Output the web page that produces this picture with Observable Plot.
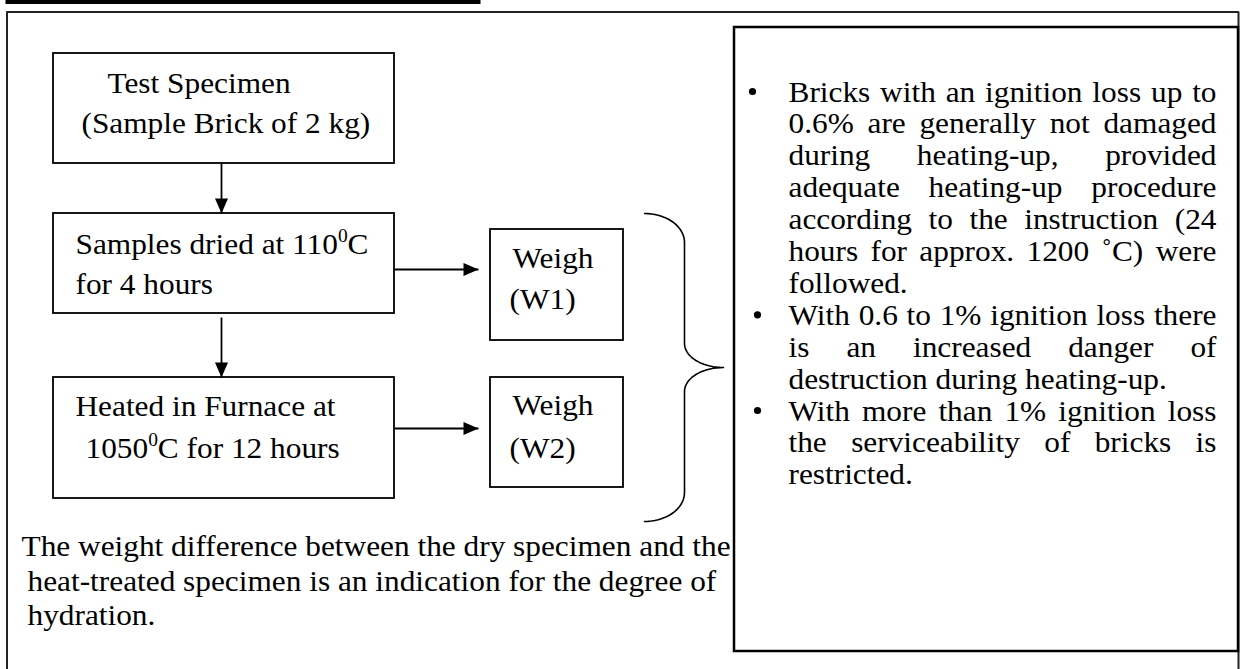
<!DOCTYPE html>
<html>
<head>
<meta charset="utf-8">
<script src="https://cdn.jsdelivr.net/npm/d3@7"></script>
<script src="https://cdn.jsdelivr.net/npm/@observablehq/plot@0.6"></script>
<style>
html,body{margin:0;padding:0;background:#fff;}
#chart svg{display:block;}
</style>
</head>
<body>
<div id="chart"></div>
<script>
// ---------------- data ----------------
const boxes = [
  {id:"specimen", x1:53,  x2:394, y1:53,  y2:163},
  {id:"dried",    x1:53,  x2:394, y1:213, y2:313},
  {id:"heated",   x1:53,  x2:394, y1:377, y2:498},
  {id:"weigh1",   x1:490, x2:623, y1:229, y2:340},
  {id:"weigh2",   x1:490, x2:623, y1:377, y2:487}
];
const noteBox = [{x1:734, x2:1238, y1:27, y2:651}];
const frameLines = [
  {x1:5,    y1:1.5,  x2:480,  y2:1.5},
  {x1:6,    y1:11.5, x2:1238, y2:11.5},
  {x1:6.5,  y1:11,   x2:6.5,  y2:669},
  {x1:1238, y1:11,   x2:1238, y2:669}
];
const arrows = [
  {x1:221, y1:163, x2:221, y2:213, dir:180},
  {x1:221, y1:317, x2:221, y2:377, dir:180},
  {x1:394, y1:269, x2:478, y2:269, dir:90},
  {x1:394, y1:428, x2:478, y2:428, dir:90}
];
const brace = {xEnd:644, xStem:684, xTip:723, yTop:213, yTip:367, yBottom:521, rTop:29, rTip:24};
const flowText = [
  {x:107, y:92,  parts:[["Test Specimen"]]},
  {x:81,  y:132, parts:[["(Sample Brick of 2 kg)"]]},
  {x:75,  y:253, parts:[["Samples dried at 110"],["0",true],["C"]]},
  {x:75,  y:293, parts:[["for 4 hours"]]},
  {x:75,  y:415, parts:[["Heated in Furnace at"]]},
  {x:85,  y:457, parts:[["1050"],["0",true],["C for 12 hours"]]},
  {x:512, y:267, parts:[["Weigh"]]},
  {x:509, y:308, parts:[["(W1)"]]},
  {x:512, y:414, parts:[["Weigh"]]},
  {x:509, y:457, parts:[["(W2)"]]},
  {x:21,  y:555, parts:[["The weight difference between the dry specimen and the"]]},
  {x:27,  y:590, parts:[["heat-treated specimen is an indication for the degree of"]]},
  {x:27,  y:624, parts:[["hydration."]]}
];
const noteLines = [
  {text:"Bricks with an ignition loss up to", justify:true},
  {text:"0.6% are generally not damaged", justify:true},
  {text:"during heating-up, provided", justify:true},
  {text:"adequate heating-up procedure", justify:true},
  {text:"according to the instruction (24", justify:true},
  {text:"hours for approx. 1200 \u02DAC) were", justify:true},
  {text:"followed.", justify:false},
  {text:"With 0.6 to 1% ignition loss there", justify:true},
  {text:"is an increased danger of", justify:true},
  {text:"destruction during heating-up.", justify:false},
  {text:"With more than 1% ignition loss", justify:true},
  {text:"the serviceability of bricks is", justify:true},
  {text:"restricted.", justify:false}
];
const bullets = [{line:0, x:752}, {line:7, x:757}, {line:10, x:757}];
const noteLeft = 788, noteRight = 1216, noteTop = 101, noteStep = 31.9;

// ---------------- layout helpers ----------------
const FONT = "Liberation Serif", SIZE = 29, SUP = 18, STRETCH = 1.08;
const cx = document.createElement("canvas").getContext("2d");
const measure = (t, s = SIZE) => { cx.font = `${s}px "${FONT}"`; return cx.measureText(t).width * STRETCH; };

const mainText = [], supText = [];
for (const L of flowText) {
  let x = L.x;
  for (const [t, isSup] of L.parts) {
    if (isSup) { supText.push({x, y: L.y - 12, t}); x += measure(t, SUP); }
    else { mainText.push({x, y: L.y, t}); x += measure(t); }
  }
}
noteLines.forEach((l, i) => {
  const y = noteTop + i * noteStep;
  if (!l.justify) { mainText.push({x: noteLeft, y, t: l.text}); return; }
  const words = l.text.split(" ");
  const ws = words.map(w => measure(w));
  const gap = (noteRight - noteLeft - d3.sum(ws)) / (words.length - 1);
  let x = noteLeft;
  words.forEach((w, j) => { mainText.push({x, y, t: w}); x += ws[j] + gap; });
});

function bracePoints(b) {
  const pts = [], N = 18, h = Math.PI / 2;
  const rx1 = b.xStem - b.xEnd, rx2 = b.xTip - b.xStem;
  for (let k = 0; k <= N; k++) { const t = k / N * h; pts.push([b.xEnd + rx1 * Math.sin(t), b.yTop + b.rTop - b.rTop * Math.cos(t)]); }
  for (let k = 0; k <= N; k++) { const t = k / N * h; pts.push([b.xTip - rx2 * Math.cos(t), b.yTip - b.rTip + b.rTip * Math.sin(t)]); }
  for (let k = 0; k <= N; k++) { const t = k / N * h; pts.push([b.xTip - rx2 * Math.sin(t), b.yTip + b.rTip - b.rTip * Math.cos(t)]); }
  for (let k = 0; k <= N; k++) { const t = k / N * h; pts.push([b.xEnd + rx1 * Math.cos(t), b.yBottom - b.rTop + b.rTop * Math.sin(t)]); }
  return pts;
}

const arrowHead = {draw(ctx) { ctx.moveTo(0, 0); ctx.lineTo(-6.5, 15); ctx.lineTo(6.5, 15); ctx.closePath(); }};

// ---------------- plot ----------------
const svg = Plot.plot({
  width: 1243, height: 669, margin: 0,
  x: {domain: [0, 1243], range: [0, 1243], axis: null},
  y: {domain: [0, 669], range: [0, 669], axis: null},
  style: {background: "white"},
  marks: [
    Plot.link(frameLines.slice(0, 1), {x1: "x1", y1: "y1", x2: "x2", y2: "y2", stroke: "black", strokeWidth: 4}),
    Plot.link(frameLines.slice(1), {x1: "x1", y1: "y1", x2: "x2", y2: "y2", stroke: "#222", strokeWidth: 2}),
    Plot.rect(noteBox, {x1: "x1", x2: "x2", y1: "y1", y2: "y2", fill: "none", stroke: "black", strokeWidth: 2.5}),
    Plot.rect(boxes, {x1: "x1", x2: "x2", y1: "y1", y2: "y2", fill: "none", stroke: "black", strokeWidth: 1.8}),
    Plot.link(arrows, {x1: "x1", y1: "y1", x2: "x2", y2: "y2", stroke: "black", strokeWidth: 1.8}),
    Plot.dot(arrows, {x: "x2", y: "y2", symbol: arrowHead, rotate: "dir", r: 6, fill: "black", stroke: "none"}),
    Plot.line(bracePoints(brace), {x: d => d[0], y: d => d[1], stroke: "black", strokeWidth: 1.6}),
    Plot.dot(bullets, {x: "x", y: d => noteTop + d.line * noteStep - 10, r: 3.6, fill: "black", stroke: "none"}),
    Plot.text(mainText, {x: "x", y: "y", text: "t", textAnchor: "start", lineAnchor: "bottom", fontFamily: FONT, fontSize: SIZE, fill: "black"}),
    Plot.text(supText, {x: "x", y: "y", text: "t", textAnchor: "start", lineAnchor: "bottom", fontFamily: FONT, fontSize: SUP, fill: "black"})
  ]
});
document.getElementById("chart").append(svg);
svg.querySelectorAll("text").forEach(el => {
  const L = el.getComputedTextLength();
  if (L > 0) { el.setAttribute("textLength", L * STRETCH); el.setAttribute("lengthAdjust", "spacingAndGlyphs"); }
});
</script>
</body>
</html>
